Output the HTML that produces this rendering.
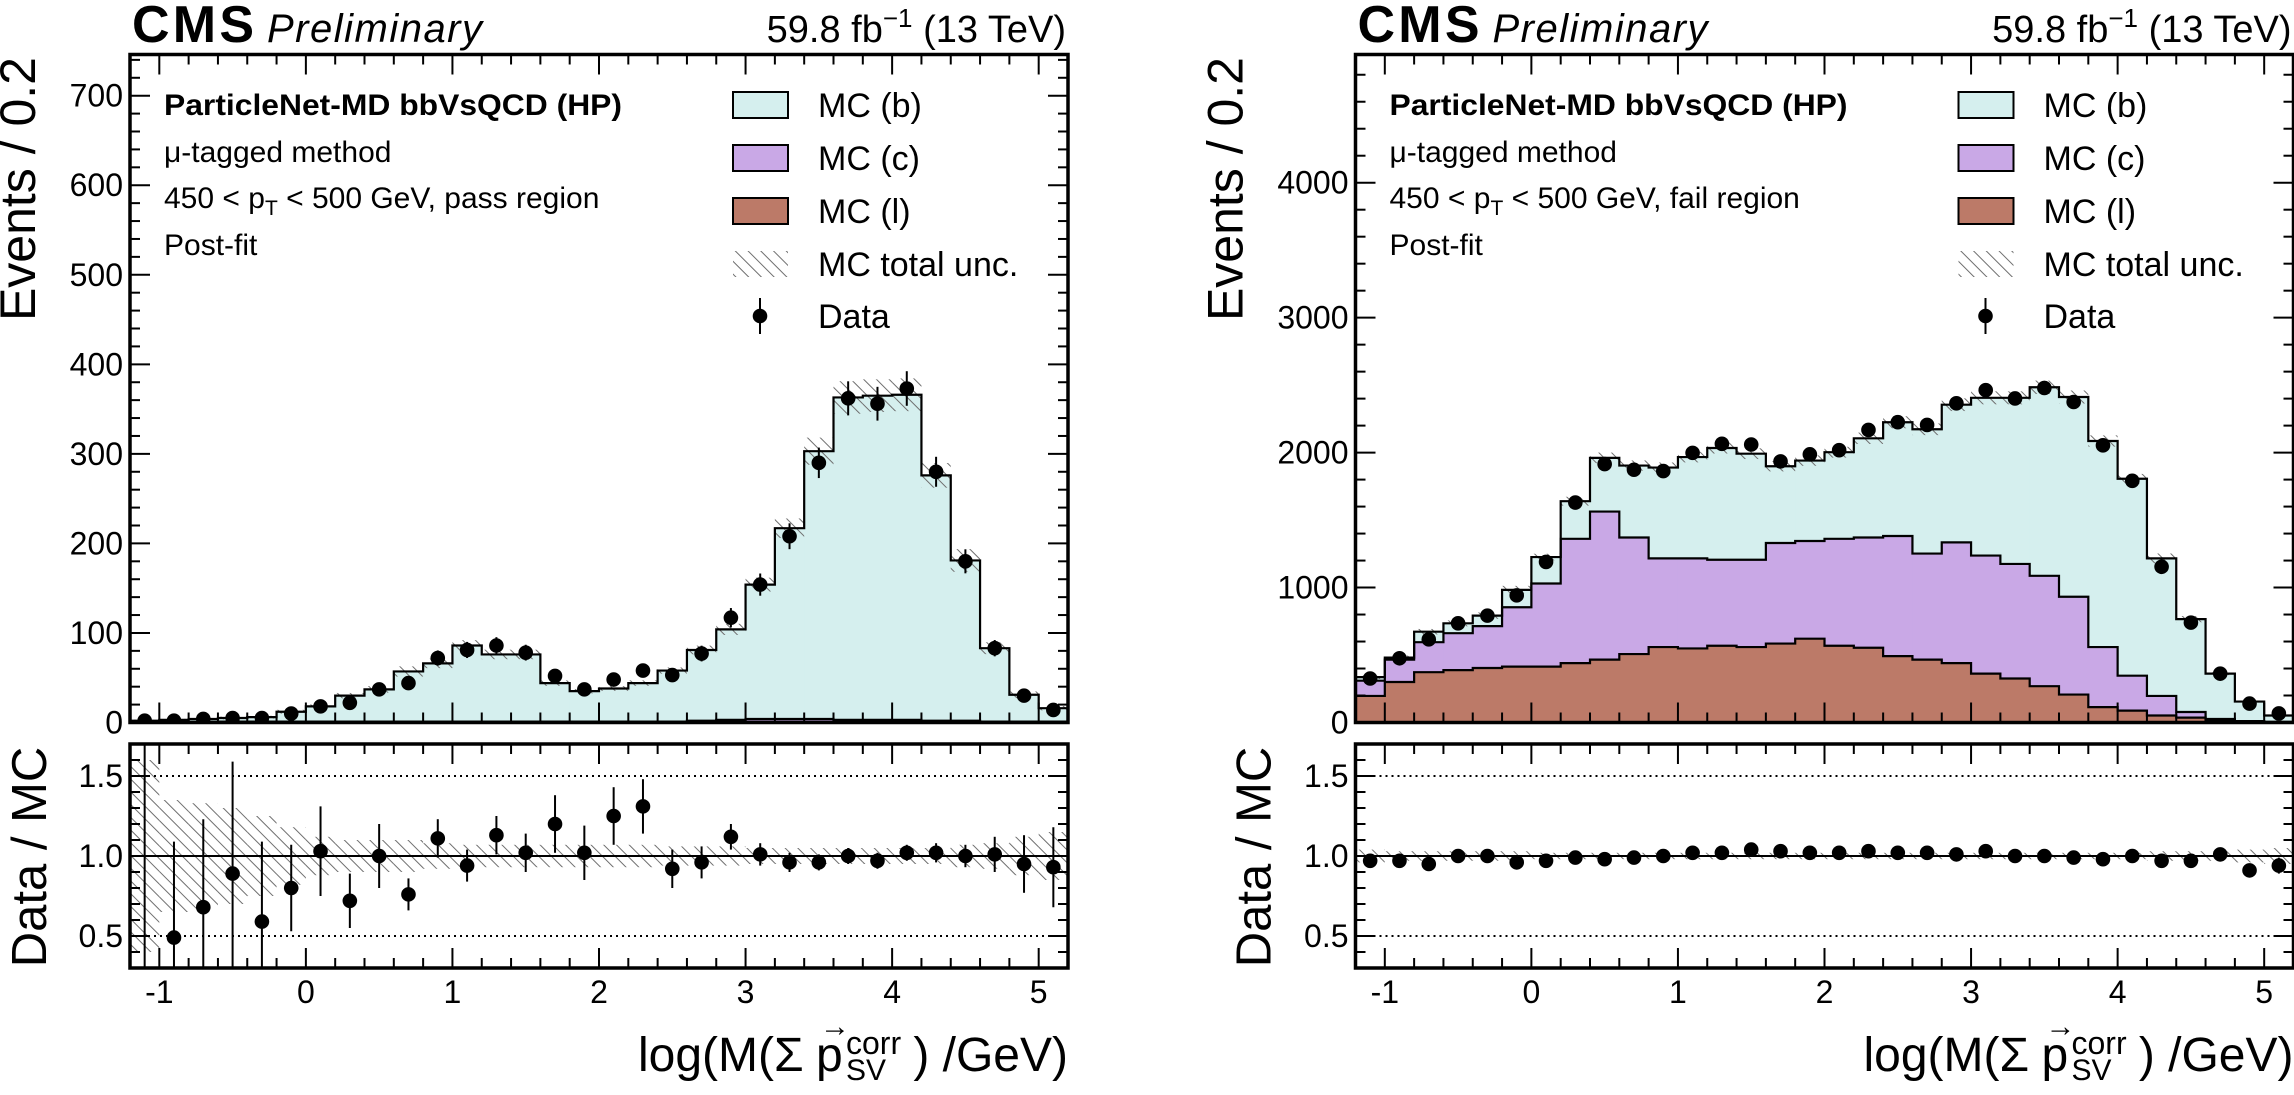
<!DOCTYPE html>
<html><head><meta charset="utf-8"><style>
html,body{margin:0;padding:0;background:#fff;width:2294px;height:1095px;overflow:hidden;position:relative;}
svg{display:block;font-family:"Liberation Sans",Arial,sans-serif;}
</style></head><body>
<svg id="fig" width="2294" height="1095" viewBox="0 0 2294 1095" xmlns="http://www.w3.org/2000/svg" style="position:absolute;left:0;top:0">
<defs>
<pattern id="hatch" patternUnits="userSpaceOnUse" width="9" height="9" patternTransform="rotate(-45)">
<line x1="0" y1="0" x2="0" y2="9" stroke="#6f6f6f" stroke-width="2"/>
</pattern>
<clipPath id="clipMainL"><rect x="130" y="54.5" width="938" height="668"/></clipPath>
<clipPath id="clipRatL"><rect x="130" y="744" width="938" height="224"/></clipPath>
<clipPath id="clipMainR"><rect x="1355.5" y="54.5" width="938" height="668"/></clipPath>
<clipPath id="clipRatR"><rect x="1355.5" y="744" width="938" height="224"/></clipPath>
</defs>
</svg>
<script>
// ---------- data (bins of width 0.2 from -1.2 to 5.2) ----------
const binLow = -1.2, binWidth = 0.2;
// pass region
const passB = [1,2,3,4,5,11,17,29,36,56,65,85,75,75,43,34,37,43,57,79,101,150,213,299,360,362,363,274,179,82,30,15];
const passC = [0,0,0,0,0,0,0,0,0,0,0,0,0,0,0,0,0,0,0,1,2,3,3,3,2,2,2,1,1,0,0,0];
const passL = [1,1,1,1,1,1,1,1,1,1,1,1,1,1,1,1,1,1,1,1,1,1,1,1,1,1,1,1,1,1,1,1];
const passData = [2,2,4,5,5,10,18,22,37,44,72,81,86,78,52,37,48,58,53,77,117,154,208,290,362,356,373,280,180,83,30,14];
const passRatio = [0.0,0.49,0.68,0.89,0.59,0.80,1.03,0.72,1.00,0.76,1.11,0.94,1.13,1.02,1.20,1.02,1.25,1.31,0.92,0.96,1.12,1.01,0.96,0.96,1.00,0.97,1.02,1.02,1.00,1.01,0.95,0.93];
const passRatioErr = [2.0,0.6,0.55,0.7,0.5,0.27,0.28,0.17,0.2,0.1,0.12,0.1,0.12,0.12,0.18,0.17,0.18,0.17,0.12,0.1,0.08,0.07,0.06,0.05,0.05,0.05,0.05,0.06,0.07,0.11,0.18,0.25];
const passUnc = [0.6,0.35,0.33,0.3,0.25,0.18,0.12,0.1,0.1,0.1,0.08,0.07,0.07,0.07,0.07,0.07,0.07,0.07,0.06,0.06,0.06,0.05,0.05,0.05,0.05,0.05,0.05,0.05,0.07,0.08,0.12,0.15];
// fail region
const failB = [26,15,78,73,78,129,196,279,398,533,673,751,828,786,569,596,642,735,843,921,1020,1169,1231,1397,1480,1527,1459,1019,688,336,145,47];
const failC = [113,166,222,274,310,440,616,921,1097,864,657,667,637,647,745,724,792,817,890,786,895,875,849,818,725,445,259,145,42,10,5,3];
const failL = [197,300,373,388,404,414,414,440,466,507,559,549,569,559,585,621,569,554,492,466,440,362,326,269,207,114,88,52,36,16,5,2];
const failData = [326,476,616,735,792,942,1190,1630,1915,1873,1863,1998,2065,2060,1935,1987,2018,2168,2225,2205,2365,2463,2401,2479,2375,2054,1791,1154,740,362,140,67];
const failRatio = [0.97,0.97,0.95,1.0,1.0,0.96,0.97,0.99,0.98,0.99,1.0,1.02,1.02,1.04,1.03,1.02,1.02,1.03,1.02,1.02,1.01,1.03,1.0,1.0,0.99,0.98,1.0,0.97,0.97,1.01,0.91,0.94];
const failRatioErr = [0.02,0.02,0.02,0.02,0.02,0.02,0.01,0.01,0.01,0.01,0.01,0.01,0.01,0.01,0.01,0.01,0.01,0.01,0.01,0.01,0.01,0.01,0.01,0.01,0.01,0.01,0.01,0.02,0.02,0.03,0.04,0.05];
const failUnc = [0.04,0.03,0.03,0.03,0.03,0.03,0.02,0.02,0.02,0.02,0.02,0.02,0.02,0.02,0.02,0.02,0.02,0.02,0.02,0.02,0.02,0.02,0.02,0.02,0.02,0.02,0.02,0.03,0.03,0.03,0.04,0.05];
const mainTicksPass = [0,100,200,300,400,500,600,700];
const mainTicksFail = [0,1000,2000,3000,4000];
const ratioTicks = [0.5,1.0,1.5];
const xTicks = [-1,0,1,2,3,4,5];

const NS = "http://www.w3.org/2000/svg";
const svg = document.getElementById("fig");
function mk(tag, attrs, parent) {
  const e = document.createElementNS(NS, tag);
  for (const k in attrs) e.setAttribute(k, attrs[k]);
  (parent || svg).appendChild(e);
  return e;
}
const COL_B = "#d5efee", COL_C = "#c9a8e6", COL_L = "#bc7a68";

function panel(cfg) {
  const X0 = cfg.x0, W = 938, MT = 54.5, MB = 722.5, RT = 744, RB = 968;
  const xpix = v => X0 + (v - binLow) / 6.4 * W;
  const ypix = v => MB - v / cfg.ymax * (MB - MT);
  const rpix = v => RT + (1.7 - v) / 1.4 * (RB - RT);
  const n = cfg.b.length;
  const g = mk("g", {});
  
  
  const gm = mk("g", {"clip-path": "url(#" + cfg.clipM + ")"}, g);
  
  
  const cols = [COL_L, COL_C, COL_B], nm = ['mc-l', 'mc-c', 'mc-b'];
  const cum = [];
  for (let i = 0; i < n; i++) cum.push([0, 0, 0, 0]);
  for (let i = 0; i < n; i++) {
    cum[i][1] = cfg.l[i];
    cum[i][2] = cfg.l[i] + cfg.c[i];
    cum[i][3] = cfg.l[i] + cfg.c[i] + cfg.b[i];
  }
  for (let s = 0; s < 3; s++) {
    for (let i = 0; i < n; i++) {
      const xa = xpix(binLow + i * binWidth), xb = xpix(binLow + (i + 1) * binWidth);
      const ya = ypix(cum[i][s + 1]), yb = ypix(cum[i][s]);
      const r = mk("rect", {x: xa, y: ya, width: xb - xa + 0.6, height: Math.max(0, yb - ya), fill: cols[s]}, gm);
      
      
    }
  }
  for (let i = 0; i < n; i++) {
    const t = cum[i][3], u = cfg.unc[i] * t;
    const xa = xpix(binLow + i * binWidth), xb = xpix(binLow + (i + 1) * binWidth);
    const r = mk("rect", {x: xa, y: ypix(t + u), width: xb - xa, height: ypix(t - u) - ypix(t + u), fill: "url(#hatch)"}, gm);
    
    
  }
  for (let s = 1; s <= 3; s++) {
    let d = "";
    for (let i = 0; i < n; i++) {
      const xa = xpix(binLow + i * binWidth), xb = xpix(binLow + (i + 1) * binWidth), y = ypix(cum[i][s]);
      d += (i === 0 ? "M" : "L") + xa + "," + y + "L" + xb + "," + y;
    }
    const p = mk("path", {d: d, fill: "none", stroke: "#000", "stroke-width": 2.2}, gm);
    
    
  }
  for (let i = 0; i < n; i++) {
    const xc = xpix(binLow + (i + 0.5) * binWidth), v = cfg.data[i], e = Math.sqrt(v);
    const ln = mk("line", {x1: xc, x2: xc, y1: ypix(v + e), y2: ypix(Math.max(0, v - e)), stroke: "#000", "stroke-width": 2}, gm);
    
    
    const c = mk("circle", {cx: xc, cy: ypix(v), r: 7.3, fill: "#000"}, gm);
    
    
  }
  const gr = mk("g", {"clip-path": "url(#" + cfg.clipR + ")"}, g);
  
  
  for (let i = 0; i < n; i++) {
    const xa = xpix(binLow + i * binWidth), xb = xpix(binLow + (i + 1) * binWidth), u = cfg.unc[i];
    const r = mk("rect", {x: xa, y: rpix(1 + u), width: xb - xa, height: rpix(1 - u) - rpix(1 + u), fill: "url(#hatch)"}, gr);
    
    
  }
  [0.5, 1.5].forEach(v => {
    const l = mk("line", {x1: X0, x2: X0 + W, y1: rpix(v), y2: rpix(v), stroke: "#000", "stroke-width": 2, "stroke-dasharray": "2,4"}, gr);
    
    
  });
  const one = mk("line", {x1: X0, x2: X0 + W, y1: rpix(1), y2: rpix(1), stroke: "#000", "stroke-width": 2}, gr);
  
  
  for (let i = 0; i < n; i++) {
    const xc = xpix(binLow + (i + 0.5) * binWidth), v = cfg.ratio[i], e = cfg.rerr[i];
    const ln = mk("line", {x1: xc, x2: xc, y1: rpix(v + e), y2: rpix(v - e), stroke: "#000", "stroke-width": 2}, gr);
    
    
    const c = mk("circle", {cx: xc, cy: rpix(v), r: 7.3, fill: "#000"}, gr);
    
    
  }
  const gt = mk("g", {stroke: "#000", "stroke-width": 2}, g);
  
  
  [[MT, MB], [RT, RB]].forEach(([T, B]) => {
    for (let k = -6; k <= 26; k++) {
      const v = k / 5, x = xpix(v);
      if (x < X0 + 1 || x > X0 + W - 1) continue;
      const L = (k % 5 === 0) ? 20 : 10;
      mk("line", {x1: x, x2: x, y1: B, y2: B - L}, gt);
      mk("line", {x1: x, x2: x, y1: T, y2: T + L}, gt);
    }
  });
  const minorStep = cfg.ymajor / 5;
  for (let v = 0; v <= cfg.ymax; v += minorStep) {
    const y = ypix(v);
    if (y < MT + 1) continue;
    const L = (Math.round(v / minorStep) % 5 === 0) ? 20 : 10;
    mk("line", {x1: X0, x2: X0 + L, y1: y, y2: y}, gt);
    mk("line", {x1: X0 + W, x2: X0 + W - L, y1: y, y2: y}, gt);
  }
  for (let k = 3; k <= 17; k++) {
    const y = rpix(k / 10), L = (k % 5 === 0) ? 20 : 10;
    mk("line", {x1: X0, x2: X0 + L, y1: y, y2: y}, gt);
    mk("line", {x1: X0 + W, x2: X0 + W - L, y1: y, y2: y}, gt);
  }
  mk("rect", {x: X0, y: MT, width: W, height: MB - MT, fill: "none", "stroke-width": 3.5}, gt);
  mk("rect", {x: X0, y: RT, width: W, height: RB - RT, fill: "none", "stroke-width": 3.5}, gt);
  cfg.yticks.forEach(v => {
    const t = mk("text", {x: X0 - 7, y: ypix(v) + 11, "font-size": 32, "text-anchor": "end"}, g);
    t.textContent = v;
    
    
  });
  ratioTicks.forEach(v => {
    const t = mk("text", {x: X0 - 7, y: rpix(v) + 11, "font-size": 32, "text-anchor": "end"}, g);
    t.textContent = v.toFixed(1);
    
    
  });
  xTicks.forEach(v => {
    const t = mk("text", {x: xpix(v), y: 1003, "font-size": 32, "text-anchor": "middle"}, g);
    t.textContent = v;
    
    
  });
}

panel({name: "pass", x0: 130, ymax: 746, ymajor: 100, b: passB, c: passC, l: passL, data: passData, ratio: passRatio, rerr: passRatioErr, unc: passUnc, yticks: mainTicksPass, clipM: "clipMainL", clipR: "clipRatL"});
panel({name: "fail", x0: 1355.5, ymax: 4950, ymajor: 1000, b: failB, c: failC, l: failL, data: failData, ratio: failRatio, rerr: failRatioErr, unc: failUnc, yticks: mainTicksFail, clipM: "clipMainR", clipR: "clipRatR"});
</script>

<svg width="2294" height="1095" style="position:absolute;left:0;top:0;font-family:'Liberation Sans',Arial,sans-serif">
<g>
<text x="132" y="42" font-size="52" font-weight="bold" textLength="122">CMS</text>
<text x="267" y="42" font-size="40" font-style="italic" textLength="215">Preliminary</text>
<text x="1066" y="42" font-size="38" text-anchor="end">59.8 fb<tspan dy="-15" font-size="26">−1</tspan><tspan dy="15"> (13 TeV)</tspan></text>
<text transform="translate(35,57) rotate(-90)" font-size="50" text-anchor="end">Events / 0.2</text>
<text transform="translate(46,857) rotate(-90)" font-size="49" text-anchor="middle">Data / MC</text>
<text x="164" y="115" font-size="30" font-weight="bold" textLength="458" lengthAdjust="spacingAndGlyphs">ParticleNet-MD bbVsQCD (HP)</text>
<text x="164" y="162" font-size="30">μ-tagged method</text>
<text x="164" y="208" font-size="30">450 &lt; p<tspan dy="7" font-size="21">T</tspan><tspan dy="-7"> &lt; 500 GeV, pass region</tspan></text>
<text x="164" y="255" font-size="30">Post-fit</text>
<g>
<rect x="733" y="92" width="55" height="26" fill="#d5efee" stroke="#000" stroke-width="2"/>
<text x="818" y="117" font-size="34">MC (b)</text>
<rect x="733" y="145" width="55" height="26" fill="#c9a8e6" stroke="#000" stroke-width="2"/>
<text x="818" y="170" font-size="34">MC (c)</text>
<rect x="733" y="198" width="55" height="26" fill="#bc7a68" stroke="#000" stroke-width="2"/>
<text x="818" y="223" font-size="34">MC (l)</text>
<rect x="733" y="251" width="55" height="26" fill="url(#hatch)"/>
<text x="818" y="276" font-size="34">MC total unc.</text>
<line x1="760" x2="760" y1="298" y2="334" stroke="#000" stroke-width="2"/>
<circle cx="760" cy="316" r="7.3" fill="#000"/>
<text x="818" y="328" font-size="34">Data</text>
</g>
<text x="638" y="1071" font-size="48">log(M(Σ </text>
<text x="816" y="1071" font-size="48">p</text>
<text x="820" y="1036" font-size="30">→</text>
<text x="846" y="1054" font-size="32">corr</text>
<text x="846" y="1080" font-size="30">SV</text>
<text x="1068" y="1071" font-size="48" text-anchor="end">) /GeV)</text>
</g>
<g transform="translate(1225.5,0)">
<text x="132" y="42" font-size="52" font-weight="bold" textLength="122">CMS</text>
<text x="267" y="42" font-size="40" font-style="italic" textLength="215">Preliminary</text>
<text x="1066" y="42" font-size="38" text-anchor="end">59.8 fb<tspan dy="-15" font-size="26">−1</tspan><tspan dy="15"> (13 TeV)</tspan></text>
<text transform="translate(17,57) rotate(-90)" font-size="50" text-anchor="end">Events / 0.2</text>
<text transform="translate(45,857) rotate(-90)" font-size="49" text-anchor="middle">Data / MC</text>
<text x="164" y="115" font-size="30" font-weight="bold" textLength="458" lengthAdjust="spacingAndGlyphs">ParticleNet-MD bbVsQCD (HP)</text>
<text x="164" y="162" font-size="30">μ-tagged method</text>
<text x="164" y="208" font-size="30">450 &lt; p<tspan dy="7" font-size="21">T</tspan><tspan dy="-7"> &lt; 500 GeV, fail region</tspan></text>
<text x="164" y="255" font-size="30">Post-fit</text>
<g>
<rect x="733" y="92" width="55" height="26" fill="#d5efee" stroke="#000" stroke-width="2"/>
<text x="818" y="117" font-size="34">MC (b)</text>
<rect x="733" y="145" width="55" height="26" fill="#c9a8e6" stroke="#000" stroke-width="2"/>
<text x="818" y="170" font-size="34">MC (c)</text>
<rect x="733" y="198" width="55" height="26" fill="#bc7a68" stroke="#000" stroke-width="2"/>
<text x="818" y="223" font-size="34">MC (l)</text>
<rect x="733" y="251" width="55" height="26" fill="url(#hatch)"/>
<text x="818" y="276" font-size="34">MC total unc.</text>
<line x1="760" x2="760" y1="298" y2="334" stroke="#000" stroke-width="2"/>
<circle cx="760" cy="316" r="7.3" fill="#000"/>
<text x="818" y="328" font-size="34">Data</text>
</g>
<text x="638" y="1071" font-size="48">log(M(Σ </text>
<text x="816" y="1071" font-size="48">p</text>
<text x="820" y="1036" font-size="30">→</text>
<text x="846" y="1054" font-size="32">corr</text>
<text x="846" y="1080" font-size="30">SV</text>
<text x="1068" y="1071" font-size="48" text-anchor="end">) /GeV)</text>
</g>
</svg>
</body></html>
